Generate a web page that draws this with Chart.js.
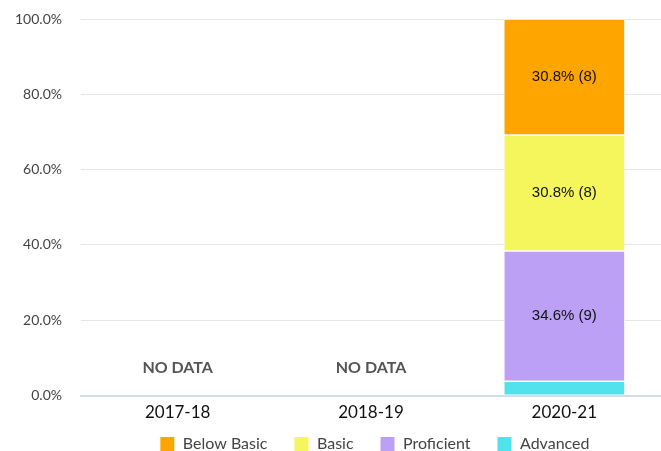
<!DOCTYPE html>
<html>
<head>
<meta charset="utf-8">
<script src="https://cdn.jsdelivr.net/npm/chart.js@4"></script>
<style>
  html, body { margin: 0; padding: 0; background: #fff; overflow: hidden; }
  #wrap { width: 661px; height: 462px; position: relative; }
</style>
</head>
<body>
<div id="wrap"><canvas id="chart"></canvas></div>
<script>
const years = ["2017-18", "2018-19", "2020-21"];
const advanced = [null, null, 3.8];
const proficient = [null, null, 34.6];
const basic = [null, null, 30.8];
const below_basic = [null, null, 30.8];
const advanced_n = [null, null, 1];
const proficient_n = [null, null, 9];
const basic_n = [null, null, 8];
const below_basic_n = [null, null, 8];
const y_ticks = [0, 20, 40, 60, 80, 100];

const colours = {
    below: "#ffa500",
    basic: "#f5f65c",
    proficient: "#bca0f5",
    advanced: "#50e3eb"
};

function makeSet(label, data, counts, colour) {
    return {
        label: label,
        data: data,
        counts: counts,
        backgroundColor: colour,
        borderColor: "#ffffff",
        borderWidth: 1,
        borderSkipped: false,
        barThickness: 121
    };
}

// labels inside segments, plus NO DATA for empty years
const segmentLabels = {
    id: "segmentLabels",
    afterDatasetsDraw(chart) {
        const ctx = chart.ctx;
        ctx.save();
        ctx.textAlign = "center";
        ctx.textBaseline = "middle";
        chart.data.datasets.forEach((ds, i) => {
            const meta = chart.getDatasetMeta(i);
            meta.data.forEach((bar, j) => {
                const v = ds.data[j];
                if (v == null) return;
                const h = Math.abs(bar.base - bar.y);
                if (h < 20) return;
                ctx.font = "15px 'Liberation Sans', Arial, sans-serif";
                ctx.fillStyle = "#111";
                ctx.fillText(v.toFixed(1) + "% (" + ds.counts[j] + ")", bar.x, (bar.y + bar.base) / 2);
            });
        });
        const xs = chart.scales.x, ys = chart.scales.y;
        years.forEach((y, j) => {
            const empty = chart.data.datasets.every(ds => ds.data[j] == null);
            if (!empty) return;
            ctx.font = "bold 16px Lato, sans-serif";
            ctx.fillStyle = "#555";
            ctx.fillText("NO DATA", xs.getPixelForValue(j), ys.getPixelForValue(7.4));
        });
        ctx.restore();
    }
};

const legend_gap = "     ";                // widens spacing between legend items
const legend_tail = "                ";    // pushes the end-aligned legend in from the right edge

new Chart(document.getElementById("chart"), {
    type: "bar",
    data: {
        labels: years,
        datasets: [
            makeSet("Advanced", advanced, advanced_n, colours.advanced),
            makeSet("Proficient", proficient, proficient_n, colours.proficient),
            makeSet("Basic", basic, basic_n, colours.basic),
            makeSet("Below Basic", below_basic, below_basic_n, colours.below)
        ]
    },
    options: {
        responsive: true,
        maintainAspectRatio: false,
        animation: false,
        layout: { padding: { top: 19, right: 0, left: 5, bottom: 0 } },
        plugins: {
            legend: {
                position: "bottom",
                align: "end",
                reverse: true,
                labels: {
                    boxWidth: 15,
                    boxHeight: 15,
                    padding: 6,
                    color: "#444",
                    font: { family: "Lato", size: 16 },
                    generateLabels: chart => {
                        const items = Chart.defaults.plugins.legend.labels.generateLabels(chart);
                        // first dataset (Advanced) is drawn last because of reverse
                        items.forEach((it, k) => {
                            it.text = it.text + (k === 0 ? legend_tail : legend_gap);
                        });
                        return items;
                    }
                }
            },
            tooltip: { enabled: false }
        },
        scales: {
            x: {
                stacked: true,
                grid: { drawOnChartArea: false, drawTicks: false },
                border: { color: "#d6dae8", width: 2 },
                ticks: { color: "#111", font: { family: "Lato", size: 17 }, padding: 7 }
            },
            y: {
                stacked: true,
                min: 0,
                max: 100,
                afterBuildTicks: axis => { axis.ticks = y_ticks.map(v => ({ value: v })); },
                grid: {
                    color: ctx => ctx.tick && ctx.tick.value === 0 ? "#d6dae8" : "#e6e6e6",
                    tickColor: "rgba(0,0,0,0)",
                    tickLength: 9
                },
                border: { display: false },
                ticks: {
                    color: "#444",
                    padding: 10,
                    font: { family: "Lato", size: 14 },
                    callback: v => v.toFixed(1) + "%"
                }
            }
        }
    },
    plugins: [segmentLabels]
});
</script>
</body>
</html>
